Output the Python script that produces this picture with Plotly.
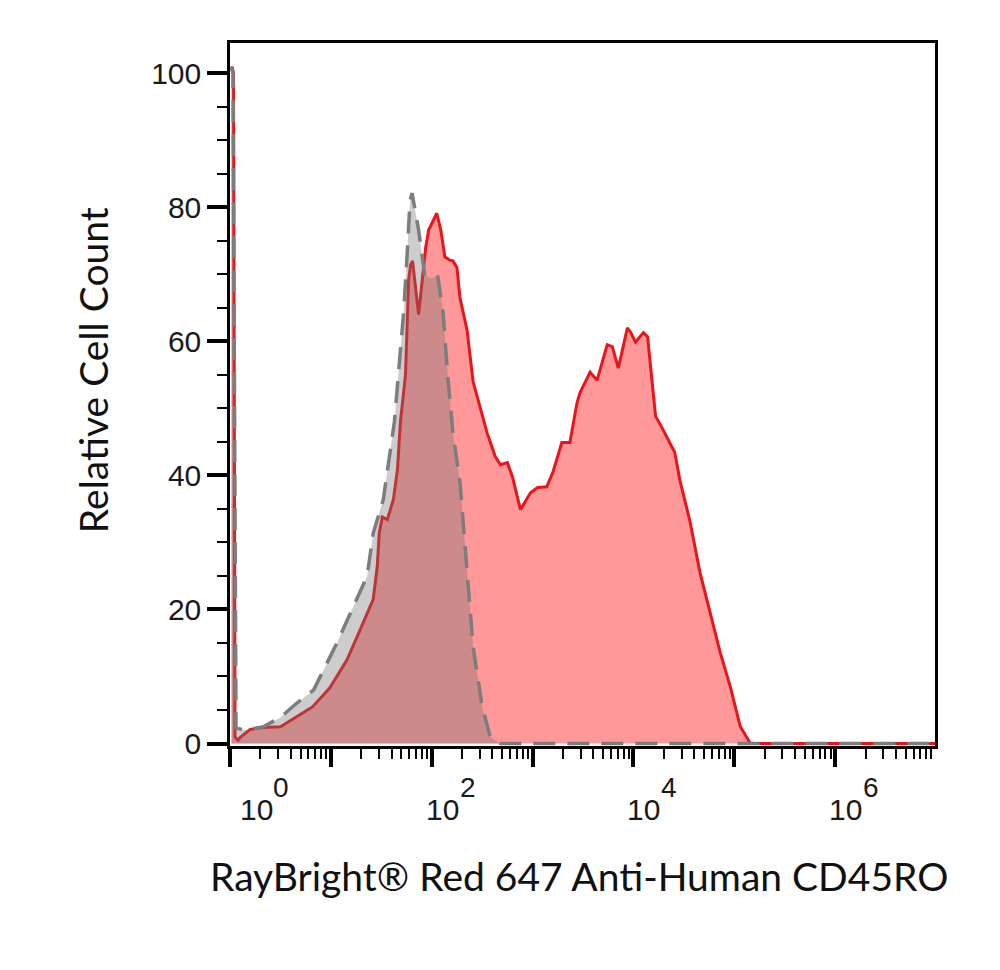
import numpy as np
import plotly.graph_objects as go

# histogram readings, x as log10(fluorescence), y as relative cell count
stained_log = [0.02, 0.035, 0.05, 0.08, 0.10, 0.15, 0.20, 0.33, 0.50, 0.66, 0.82, 0.99,
               1.16, 1.32, 1.42, 1.46, 1.48, 1.51, 1.56, 1.62, 1.66, 1.69, 1.74, 1.76,
               1.77, 1.79, 1.81, 1.84, 1.87, 1.94, 1.97, 2.05, 2.09, 2.13, 2.18, 2.21,
               2.25, 2.28, 2.35, 2.41, 2.55, 2.63, 2.68, 2.75, 2.80, 2.88, 2.98, 3.05,
               3.14, 3.20, 3.29, 3.37, 3.44, 3.47, 3.57, 3.64, 3.74, 3.79, 3.85, 3.94,
               3.97, 4.02, 4.10, 4.14, 4.22, 4.28, 4.36, 4.41, 4.46, 4.56, 4.66, 4.76,
               4.86, 4.96, 5.06, 5.16, 6.99]
stained_count = [101, 100, 1.0, 0.5, 0.9, 1.5, 2.1, 2.4, 2.5, 4.0, 5.5, 8.3,
                 12.5, 18.0, 21.5, 26.4, 31.4, 33.8, 33.4, 36.4, 40.8, 48.0, 55.0, 64.0,
                 69.0, 71.4, 72.0, 68.0, 64.0, 74.0, 76.6, 79.1, 76.6, 72.6, 72.1, 72.0,
                 71.0, 66.5, 61.7, 54.0, 46.3, 42.8, 41.6, 41.9, 39.8, 34.9, 37.4, 38.2,
                 38.3, 40.4, 44.9, 44.9, 50.8, 52.3, 55.4, 54.2, 59.5, 59.2, 56.0, 62.0,
                 61.4, 59.9, 61.3, 60.7, 48.8, 47.2, 44.9, 43.4, 39.3, 33.2, 25.5, 19.5,
                 13.6, 8.5, 2.5, 0.0, 0.0]

control_log = [0.01, 0.03, 0.06, 0.15, 0.33, 0.50, 0.66, 0.83, 1.06, 1.26, 1.36, 1.42,
               1.52, 1.63, 1.67, 1.72, 1.755, 1.785, 1.805, 1.84, 1.87, 1.93, 1.98, 2.06,
               2.11, 2.16, 2.21, 2.28, 2.31, 2.36, 2.41, 2.50, 2.58, 2.68, 6.99]
control_count = [101, 100, 2.3, 2.0, 2.5, 3.9, 6.0, 8.0, 15.0, 21.5, 25.0, 31.4,
                 36.4, 48.0, 55.3, 64.0, 72.6, 81.0, 82.1, 79.0, 76.6, 70.0, 69.4, 69.6,
                 64.7, 54.7, 46.3, 39.0, 33.0, 23.0, 14.5, 5.5, 1.0, 0.0, 0.0]

x_decades = [0, 1, 2, 3, 4, 5, 6]
x_label_exps = [0, 2, 4, 6]
y_ticks = [0, 20, 40, 60, 80, 100]

x_title = "RayBright® Red 647 Anti-Human CD45RO"
y_title = "Relative Cell Count"

tick_font = dict(family="Liberation Sans, Arial", size=30, color="#1a1a1a")
title_font = dict(family="Lato, Open Sans", size=39, color="#111111")

stained_x = [10 ** v for v in stained_log]
control_x = [10 ** v for v in control_log]

fig = go.Figure()

fig.add_trace(go.Scatter(x=stained_x, y=stained_count, mode="lines",
                         line=dict(color="#e8161b", width=3),
                         fill="tozeroy", fillcolor="rgb(255,152,152)",
                         showlegend=False))
fig.add_trace(go.Scatter(x=control_x, y=control_count, mode="lines",
                         line=dict(color="#7d7d7d", width=3.5, dash="22px,12px"),
                         fill="tozeroy", fillcolor="rgba(112,112,112,0.35)",
                         showlegend=False))

minor_x = [m * 10 ** k for k in x_decades for m in range(2, 10)]

fig.update_xaxes(type="log", range=[0, 6.99],
                 tickvals=[10 ** k for k in x_decades], showticklabels=False,
                 ticks="outside", ticklen=18, tickwidth=4, tickcolor="black",
                 minor=dict(tickvals=minor_x, ticks="outside", ticklen=10,
                            tickwidth=2, tickcolor="black"),
                 showline=True, linewidth=2.5, linecolor="black", mirror=True,
                 showgrid=False, zeroline=False)

fig.update_yaxes(range=[-0.37, 104.5], tickvals=y_ticks,
                 ticks="outside", ticklen=20, tickwidth=4, tickcolor="black",
                 minor=dict(dtick=5, ticks="outside", ticklen=10, tickwidth=2,
                            tickcolor="black"),
                 showline=True, linewidth=2.5, linecolor="black", mirror=True,
                 showgrid=False, zeroline=False, tickfont=tick_font)

# decade labels drawn as "10" with a full-size raised exponent, like the original
for e in x_label_exps:
    base_shift = 8 if e == 0 else -8
    exp_shift = 41 if e == 0 else 26
    fig.add_annotation(text="10", xref="x", yref="paper", x=e, y=0,
                       xanchor="left", yanchor="middle", xshift=base_shift, yshift=-63,
                       showarrow=False, font=tick_font)
    fig.add_annotation(text=str(e), xref="x", yref="paper", x=e, y=0,
                       xanchor="left", yanchor="middle", xshift=exp_shift, yshift=-41,
                       showarrow=False, font=dict(tick_font, size=28))

fig.add_annotation(text=x_title, xref="paper", yref="paper", x=0.495, y=-0.1855,
                   showarrow=False, font=title_font, xanchor="center", yanchor="middle")
fig.add_annotation(text=y_title, xref="paper", yref="paper", x=-0.194, y=0.535,
                   showarrow=False, font=title_font, textangle=-90,
                   xanchor="center", yanchor="middle")

# page body has an 8px margin, so the figure is 16px smaller than the window
fig.update_layout(width=984, height=954,
                  margin=dict(l=222, r=57, t=35, b=215.5),
                  plot_bgcolor="white", paper_bgcolor="white")

fig.write_html("out.html")
